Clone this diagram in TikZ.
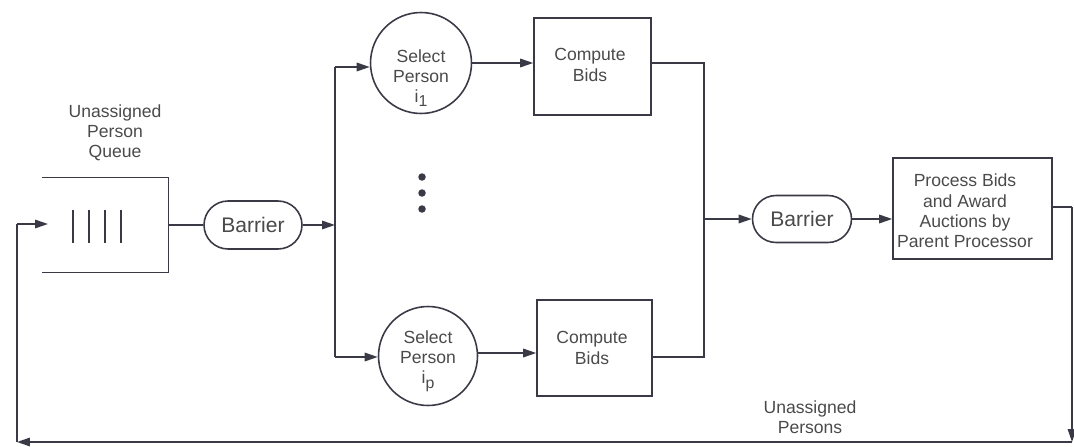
\documentclass[tikz,border=0pt]{standalone}
\usepackage{fontspec}
\setmainfont{Liberation Sans}
\usetikzlibrary{arrows.meta,shapes.misc,calc}
\definecolor{ink}{HTML}{3A3A46}
\definecolor{txt}{HTML}{4A4A4A}
\tikzset{
  base/.style={draw=ink, line width=0.9pt},
  arr/.style={base, -{Triangle[length=2.6mm,width=1.7mm]}},
  lbl/.style={text=txt, font=\fontsize{10}{11.5}\selectfont, align=center, inner sep=0pt},
  pill/.style={base, rounded rectangle, minimum height=0.96cm, minimum width=1.96cm,
    text=txt, font=\fontsize{12}{14}\selectfont, inner sep=0pt},
  task/.style={base, rectangle, inner sep=0pt},
  sel/.style={base, circle, inner sep=0pt, minimum size=2.02cm},
}
\newcommand{\subidx}[2]{#1\raisebox{-0.45ex}{\fontsize{9}{10}\selectfont #2}}
\begin{document}
\begin{tikzpicture}[x=0.02cm, y=-0.02cm]
\useasboundingbox (0,0) rectangle (1074,446);

% queue of unassigned persons
\node[minimum width=2.52cm, minimum height=1.88cm, inner sep=0pt] (queue) at (105,225) {};
\draw[base] (queue.north west) -- (queue.north east) -- (queue.south east) -- (queue.south west);
\foreach \bx in {73,89,105,121} \draw[base] (\bx,210) -- (\bx,243);
\node[lbl] (qlabel) at (115,133) {Unassigned\\Person\\Queue};

% barriers
\node[pill] (bar1) at (253,225) {Barrier};
\node[pill, minimum width=1.98cm, minimum height=0.94cm] (bar2) at (802,219) {Barrier};

% person selection
\node[sel] (sel1) at (421,63) {};
\node[lbl] (sel1t) at (421,78) {Select\\Person\\\subidx{i}{1}};
\node[sel, minimum size=1.98cm] (sel2) at (428,356) {};
\node[lbl] (sel2t) at (428,361) {Select\\Person\\\subidx{i}{p}};
\foreach \dy in {177,193,209} \fill[ink] (422,\dy) circle (0.075cm);

% bid computation
\node[task, minimum width=2.34cm, minimum height=1.94cm] (bid1) at (592.5,66.5) {};
\node[lbl] (bid1t) at (590,65) {Compute\\Bids};
\node[task, minimum width=2.30cm, minimum height=1.92cm] (bid2) at (594.5,348) {};
\node[lbl] (bid2t) at (592,348) {Compute\\Bids};

% parent processor
\node[task, minimum width=3.18cm, minimum height=2.02cm] (proc) at (972.5,208.5) {};
\node[lbl] (proct) at (965,211) {Process Bids\\and Award\\Auctions by\\Parent Processor};

\node[lbl] (ulabel) at (810,417) {Unassigned\\Persons};

% routing points
\coordinate (split) at (335,225);
\coordinate (s1) at (335,67);
\coordinate (s2) at (335,357);
\coordinate (j1) at (704,63);
\coordinate (j2) at (704,357);
\coordinate (join) at (704,219);
\coordinate (r1) at (1072,207);
\coordinate (r2) at (1072,442);
\coordinate (l1) at (17,442);
\coordinate (l2) at (17,224);
\coordinate (qin) at (48,224);

% connectors
\draw[base] (queue.east) -- (bar1.west);
\draw[arr] (bar1.east) -- (split);
\draw[base] (s1) -- (s2);
\draw[arr] (s1) -- (s1 -| sel1.west);
\draw[arr] (s2) -- (s2 -| sel2.west);
\draw[arr] (sel1.east |- 0,63) -- (bid1.west |- 0,63);
\draw[arr] (sel2.east |- 0,353) -- (bid2.west |- 0,353);
\draw[base] (bid1.east |- j1) -- (j1) -- (j2) -- (bid2.east |- j2);
\draw[arr] (join) -- (bar2.west);
\draw[arr] (bar2.east) -- (proc.west |- bar2.east);
\draw[base] (proc.east |- r1) -- (r1);
\draw[arr] (r1) -- (r2);
\draw[arr] (r2) -- (l1);
\draw[base] (l1) -- (l2);
\draw[arr] (l2) -- (qin);
\end{tikzpicture}
\end{document}
